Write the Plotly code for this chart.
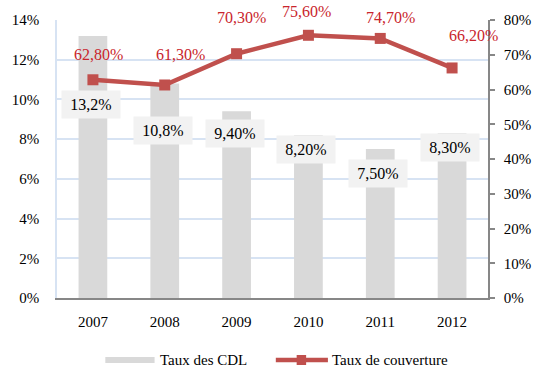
import plotly.graph_objects as go

years = ["2007", "2008", "2009", "2010", "2011", "2012"]
taux_cdl = [13.2, 10.8, 9.4, 8.2, 7.5, 8.3]
taux_cdl_labels = ["13,2%", "10,8%", "9,40%", "8,20%", "7,50%", "8,30%"]
taux_couverture = [62.8, 61.3, 70.3, 75.6, 74.7, 66.2]
taux_couverture_labels = ["62,80%", "61,30%", "70,30%", "75,60%", "74,70%", "66,20%"]

# label placement offsets (pixels)
cdl_label_dy = [-69, -47, -22, -14, -24, -14]
couv_label_dy = [25, 30, 36, 24, 21, 32]
couv_label_dx = [6, 16, 5, -2, 10, 21]

FONT = "Liberation Serif, Times New Roman, DejaVu Serif, serif"
BAR_COLOR = "#d9d9d9"
LINE_COLOR = "#c0504d"
LABEL_RED = "#c9252c"
GRID = "#d7e3f3"
W, H = 543, 367
ML, MR, MT, MB = 50, 38, 20, 69

fig = go.Figure()
fig.add_trace(go.Bar(
    x=years, y=taux_cdl, name="Taux des CDL",
    marker=dict(color=BAR_COLOR, line=dict(width=0)),
    width=0.4, yaxis="y",
))
fig.add_trace(go.Scatter(
    x=years, y=taux_couverture, name="Taux de couverture",
    mode="lines+markers",
    line=dict(color=LINE_COLOR, width=4.5),
    marker=dict(symbol="square", size=11, color=LINE_COLOR),
    yaxis="y2",
))

# on a category axis, annotations are placed by category index
annotations = []
for i, (v, txt, dy) in enumerate(zip(taux_cdl, taux_cdl_labels, cdl_label_dy)):
    annotations.append(dict(
        x=i, y=v, xref="x", yref="y", text=txt, showarrow=False,
        yshift=dy, xshift=-2, yanchor="middle", xanchor="center",
        font=dict(family=FONT, size=16, color="#000000"),
        bgcolor="#f2f2f2", width=54, height=23, borderpad=2,
    ))
for i, (v, txt, dy, dx) in enumerate(zip(taux_couverture, taux_couverture_labels,
                                         couv_label_dy, couv_label_dx)):
    annotations.append(dict(
        x=i, y=v, xref="x", yref="y2", text=txt, showarrow=False,
        yshift=dy, xshift=dx, yanchor="middle", xanchor="center",
        font=dict(family=FONT, size=16, color=LABEL_RED),
    ))


# legend drawn beneath the plot area (pixel positions -> paper coords)
def px(x):
    return (x - ML) / (W - ML - MR)


def py(y):
    return (H - MB - y) / (H - MT - MB)


legend_y = 360
shapes = [
    dict(type="rect", xref="paper", yref="paper",
         x0=px(101), x1=px(153), y0=py(legend_y + 3), y1=py(legend_y - 3),
         fillcolor=BAR_COLOR, line=dict(width=0)),
    dict(type="line", xref="paper", yref="paper",
         x0=px(281), x1=px(336), y0=py(legend_y), y1=py(legend_y),
         line=dict(color=LINE_COLOR, width=4.5)),
    dict(type="rect", xref="paper", yref="paper",
         x0=px(303), x1=px(313), y0=py(legend_y + 5), y1=py(legend_y - 5),
         fillcolor=LINE_COLOR, line=dict(width=0)),
]
annotations += [
    dict(xref="paper", yref="paper", x=px(157), y=py(legend_y),
         text="Taux des CDL", showarrow=False, xanchor="left", yanchor="middle",
         font=dict(family=FONT, size=15, color="#000000")),
    dict(xref="paper", yref="paper", x=px(338), y=py(legend_y),
         text="Taux de couverture", showarrow=False, xanchor="left", yanchor="middle",
         font=dict(family=FONT, size=15, color="#000000")),
]

fig.update_layout(
    width=W, height=H,
    margin=dict(l=ML, r=MR, t=MT, b=MB),
    paper_bgcolor="white", plot_bgcolor="white",
    font=dict(family=FONT, size=15, color="#000000"),
    showlegend=False,
    xaxis=dict(
        type="category", range=[-0.5, len(years) - 0.5],
        showline=True, linecolor="#878787", linewidth=1.5,
        showgrid=False, ticks="", ticklabelstandoff=9,
        tickfont=dict(family=FONT, size=15),
    ),
    yaxis=dict(
        range=[0, 14], dtick=2, ticksuffix="%",
        showgrid=True, gridcolor=GRID, gridwidth=1.5,
        showline=True, linecolor=GRID, linewidth=1.5,
        zeroline=False, ticks="", ticklabelstandoff=13,
        tickfont=dict(family=FONT, size=15),
    ),
    yaxis2=dict(
        range=[0, 80], dtick=10, ticksuffix="%",
        overlaying="y", side="right", showgrid=False,
        showline=True, linecolor="#878787", linewidth=1.5,
        ticks="outside", ticklen=5, tickcolor="#878787", tickwidth=1.5,
        zeroline=False, ticklabelstandoff=6,
        tickfont=dict(family=FONT, size=15),
    ),
    shapes=shapes,
    annotations=annotations,
)

fig.write_html("out.html")
